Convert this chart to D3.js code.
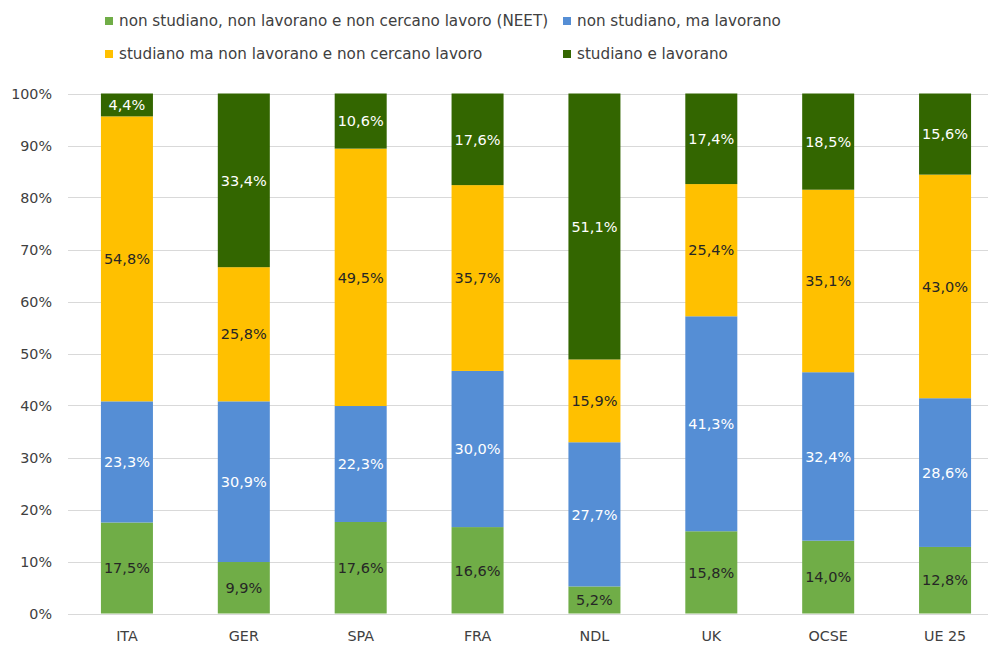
<!DOCTYPE html>
<html><head><meta charset="utf-8">
<script src="https://cdn.jsdelivr.net/npm/d3@7"></script>
<style>body{margin:0;background:#fff}svg{display:block}</style>
</head><body>
<svg id="c" width="990" height="645"></svg>
<script>
const categories = ["ITA","GER","SPA","FRA","NDL","UK","OCSE","UE 25"];
const seriesNames = ["non studiano, non lavorano e non cercano lavoro (NEET)","non studiano, ma lavorano","studiano ma non lavorano e non cercano lavoro","studiano e lavorano"];
const neet      = [17.5, 9.9, 17.6, 16.6, 5.2, 15.8, 14.0, 12.8];
const lavorano  = [23.3, 30.9, 22.3, 30.0, 27.7, 41.3, 32.4, 28.6];
const studiano  = [54.8, 25.8, 49.5, 35.7, 15.9, 25.4, 35.1, 43.0];
const entrambi  = [4.4, 33.4, 10.6, 17.6, 51.1, 17.4, 18.5, 15.6];
const yTicks = [0,0.1,0.2,0.3,0.4,0.5,0.6,0.7,0.8,0.9,1];

const colors = ["#70AD47","#558ED5","#FFC000","#336600"];
const labelColors = ["#262626","#ffffff","#262626","#ffffff"];
const keys = ["s0","s1","s2","s3"];
const rows = categories.map((c,i)=>({cat:c,s0:neet[i],s1:lavorano[i],s2:studiano[i],s3:entrambi[i]}));
const stack = d3.stack().keys(keys).offset(d3.stackOffsetExpand)(rows);

const svg = d3.select("#c");
const font = "DejaVu Sans";
const x = d3.scaleBand().domain(categories).range([68.5, 1003.5]).paddingInner(0.555).paddingOuter(0.2775);
const y = d3.scaleLinear().domain([0,1]).range([613.5, 93.5]);

// gridlines
svg.append("g").selectAll("line").data(yTicks).join("line")
  .attr("x1",68).attr("x2",988).attr("y1",d=>Math.round(y(d))+0.5).attr("y2",d=>Math.round(y(d))+0.5)
  .attr("stroke","#d9d9d9").attr("stroke-width",1);

// y labels
svg.append("g").selectAll("text").data(yTicks).join("text")
  .attr("x",52).attr("y",d=>y(d)).attr("dy","0.36em").attr("text-anchor","end")
  .attr("font-family",font).attr("font-size",14.3).attr("fill","#404040")
  .text(d=>Math.round(d*100)+"%");

// bars
const layers = svg.append("g").selectAll("g").data(stack).join("g").attr("fill",(d,i)=>colors[i]);
layers.selectAll("rect").data(d=>d).join("rect")
  .attr("x",d=>x(d.data.cat)).attr("width",x.bandwidth())
  .attr("y",d=>y(d[1])).attr("height",d=>y(d[0])-y(d[1]));

// labels
const lab = svg.append("g").selectAll("g").data(stack).join("g");
lab.each(function(s,i){
  d3.select(this).selectAll("text").data(s).join("text")
    .attr("x",d=>x(d.data.cat)+x.bandwidth()/2)
    .attr("y",d=>(y(d[0])+y(d[1]))/2).attr("dy","0.36em")
    .attr("text-anchor","middle").attr("font-family",font).attr("font-size",14.5)
    .attr("fill",labelColors[i])
    .text(d=>d.data[s.key].toFixed(1).replace(".",",")+"%");
});

// x labels
svg.append("g").selectAll("text").data(categories).join("text")
  .attr("x",d=>x(d)+x.bandwidth()/2).attr("y",636).attr("dy","0.36em").attr("text-anchor","middle")
  .attr("font-family",font).attr("font-size",14.3).attr("fill","#404040").text(d=>d);

// legend
const legPos = [[105,21],[563,21],[105,54],[563,54]];
const leg = svg.append("g").selectAll("g").data(seriesNames).join("g")
  .attr("transform",(d,i)=>`translate(${legPos[i][0]},${legPos[i][1]})`);
leg.append("rect").attr("x",0).attr("y",-4).attr("width",8).attr("height",8).attr("fill",(d,i)=>colors[i]);
leg.append("text").attr("x",14).attr("y",0).attr("dy","0.36em")
  .attr("font-family",font).attr("font-size",15.2).attr("fill","#404040").text(d=>d);
</script>
</body></html>
